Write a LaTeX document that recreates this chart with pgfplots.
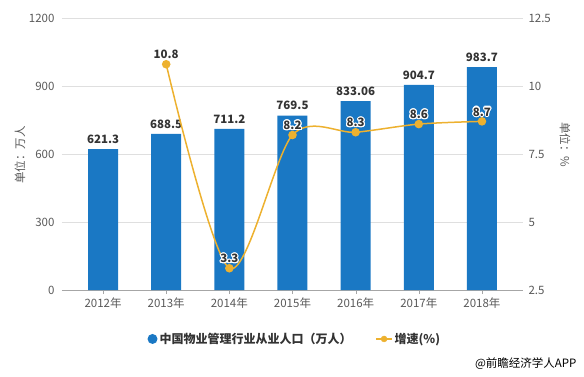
\documentclass[border=0pt]{standalone}
\usepackage{pgfplots}
\pgfplotsset{compat=1.18}
\usepackage{fontspec}
\setmainfont{Noto Sans CJK SC}
\usepackage{contour}
\contourlength{1.1pt}
\definecolor{barblue}{HTML}{1A78C4}
\definecolor{lineyel}{HTML}{EDB12F}
\definecolor{ticktxt}{HTML}{595959}
\definecolor{lbltxt}{HTML}{333333}
\begin{document}
\begin{tikzpicture}
\path[use as bounding box] (0,0) rectangle (584pt,376pt);
\begin{axis}[
  at={(62pt,86pt)}, anchor=south west, scale only axis,
  width=461pt, height=272pt,
  xmin=-0.65, xmax=6.65, ymin=0, ymax=1200,
  ytick={0,300,600,900,1200},
  yticklabels={0,300,600,900,1200},
  xtick={0,1,2,3,4,5,6},
  xticklabels={2012年,2013年,2014年,2015年,2016年,2017年,2018年},
  axis x line*=bottom, axis y line*=left,
  y axis line style={draw=none},
  x axis line style={draw=gray!70, -},
  major y tick style={draw=none},
  major x tick style={draw=gray!70},
  tick align=outside, major tick length=4pt,
  ymajorgrids, grid style={draw=gray!25, line width=0.6pt},
  tick label style={font=\fontsize{11.5}{13}\selectfont, color=ticktxt},
  ybar, bar width=30pt,
  legend style={at={(0.505,-0.18)}, anchor=center, draw=none, fill=none,
    legend columns=2, font=\fontsize{12}{14}\selectfont\bfseries, text=lbltxt,
    /tikz/every even column/.append style={column sep=22pt}},
  legend cell align=left,
]
\addplot[fill=barblue, draw=none, point meta=explicit symbolic,
  nodes near coords, nodes near coords style={font=\fontsize{11.5}{13}\selectfont\bfseries, color=lbltxt, yshift=2pt},
  legend image code/.code={\fill[barblue] (0.2cm,0) circle (5pt);}]
  coordinates {(0,621.3)[621.3] (1,688.5)[688.5] (2,711.2)[711.2] (3,769.5)[769.5] (4,833.06)[833.06] (5,904.7)[904.7] (6,983.7)[983.7]};
\addlegendentry{中国物业管理行业从业人口（万人）}
\addlegendimage{legend image code/.code={\draw[lineyel, line width=1.5pt] (0,0) -- (0.55cm,0); \fill[lineyel] (0.275cm,0) circle (3pt);}}
\addlegendentry{增速(\%)}
\end{axis}
\begin{axis}[
  at={(62pt,86pt)}, anchor=south west, scale only axis,
  width=461pt, height=272pt,
  xmin=-0.65, xmax=6.65, ymin=2.5, ymax=12.5,
  ytick={2.5,5,7.5,10,12.5},
  yticklabels={2.5,5,7.5,10,12.5},
  axis y line*=right, axis x line=none,
  y axis line style={draw=none},
  major y tick style={draw=none},
  yticklabel style={xshift=2pt},
  tick label style={font=\fontsize{11.5}{13}\selectfont, color=ticktxt},
  clip=false,
]
\addplot[smooth, color=lineyel, line width=1.5pt, mark=*, mark size=3.5pt,
  mark options={fill=lineyel, draw=lineyel}, point meta=explicit symbolic,
  nodes near coords={\contour{white}{\pgfplotspointmeta}},
  nodes near coords style={font=\fontsize{11.5}{13}\selectfont\bfseries, color=lbltxt}]
  coordinates {(1,10.8)[10.8] (2,3.3)[3.3] (3,8.2)[8.2] (4,8.3)[8.3] (5,8.6)[8.6] (6,8.7)[8.7]};
\end{axis}
\node[rotate=90, font=\fontsize{11.5}{13}\selectfont, color=ticktxt] at (20pt,221pt) {单位：万人};
\node[rotate=-90, font=\fontsize{11.5}{13}\selectfont, color=ticktxt] at (565pt,231pt) {单位：\%};
\node[anchor=east, font=\fontsize{11.5}{13}\selectfont, color=black] at (580pt,12pt) {@前瞻经济学人APP};
\end{tikzpicture}
\end{document}
